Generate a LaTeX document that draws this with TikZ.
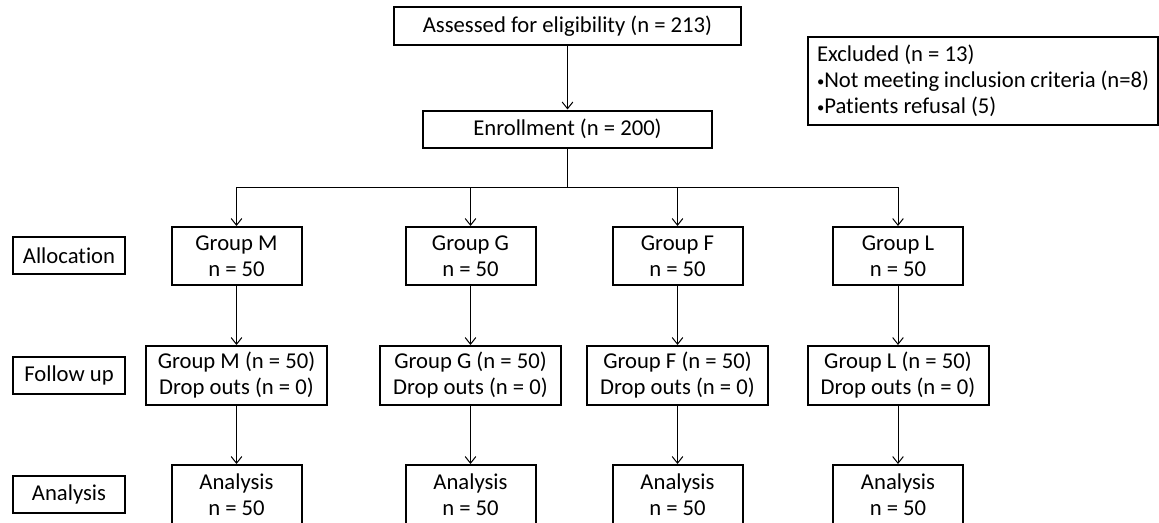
\documentclass[tikz,border=0pt]{standalone}
\usepackage{fontspec}
\setmainfont{Carlito}[Ligatures=NoCommon]
\usetikzlibrary{arrows.meta}
\newcommand\bul{\raisebox{1.2pt}{\fontsize{11}{11}\selectfont •}}
\begin{document}
\begin{tikzpicture}[x=0.75pt,y=-0.75pt,
  every node/.style={font=\fontsize{17}{19.5}\selectfont},
  box/.style={draw,line width=1.5pt,align=center,inner sep=0pt},
  grpbox/.style={box,minimum width=97.5pt,minimum height=43.5pt},
  fupbox/.style={box,minimum width=135.75pt,minimum height=44.25pt},
  lblbox/.style={box,minimum width=84pt,minimum height=27.75pt},
  conn/.style={line width=0.75pt},
  arr/.style={conn,-{Straight Barb[length=5pt,width=8pt,line width=0.75pt]}}]
\useasboundingbox (0,0) rectangle (1159,522);
% top
\node[box,minimum width=260.25pt,minimum height=28.5pt] (assess) at (567.5,26) {Assessed for eligibility (n = 213)};
\node[box,minimum width=216.75pt,minimum height=27.75pt] (enroll) at (567.5,129) {Enrollment (n = 200)};
\node[box,minimum width=262.5pt,minimum height=66pt,align=flush left,text width=249pt,inner xsep=6.75pt] (excl) at (983,81)
  {Excluded (n = 13)\\\bul Not meeting inclusion criteria (n=8)\\\bul Patients refusal (5)};
% labels
\node[lblbox] (lalloc) at (69,255.5) {Allocation};
\node[lblbox] (lfup) at (69,375.5) {Follow up};
\node[lblbox] (lana) at (69,494.5) {Analysis};
% groups
\node[grpbox] (gM) at (236.5,256) {Group M\\n = 50};
\node[grpbox] (gG) at (470.5,256) {Group G\\n = 50};
\node[grpbox] (gF) at (677.5,256) {Group F\\n = 50};
\node[grpbox] (gL) at (898,256) {Group L\\n = 50};
% follow up
\node[fupbox] (fM) at (236.5,375.5) {Group M (n = 50)\\Drop outs (n = 0)};
\node[fupbox] (fG) at (470.5,375.5) {Group G (n = 50)\\Drop outs (n = 0)};
\node[fupbox] (fF) at (677.5,375.5) {Group F (n = 50)\\Drop outs (n = 0)};
\node[fupbox] (fL) at (898,375.5) {Group L (n = 50)\\Drop outs (n = 0)};
% analysis
\node[grpbox,minimum height=44.25pt] (aM) at (236.5,494.5) {Analysis\\n = 50};
\node[grpbox,minimum height=44.25pt] (aG) at (470.5,494.5) {Analysis\\n = 50};
\node[grpbox,minimum height=44.25pt] (aF) at (677.5,494.5) {Analysis\\n = 50};
\node[grpbox,minimum height=44.25pt] (aL) at (898,494.5) {Analysis\\n = 50};
% connectors
\draw[arr] (assess) -- (enroll);
\coordinate (bar) at (567.5,187);
\draw[conn] (enroll) -- (bar);
\draw[conn] (gM |- bar) -- (gL |- bar);
\foreach \g in {gM,gG,gF,gL} {\draw[arr] (\g |- bar) -- (\g);}
\draw[arr] (gM) -- (fM); \draw[arr] (gG) -- (fG); \draw[arr] (gF) -- (fF); \draw[arr] (gL) -- (fL);
\draw[arr] (fM) -- (aM); \draw[arr] (fG) -- (aG); \draw[arr] (fF) -- (aF); \draw[arr] (fL) -- (aL);
\end{tikzpicture}
\end{document}
